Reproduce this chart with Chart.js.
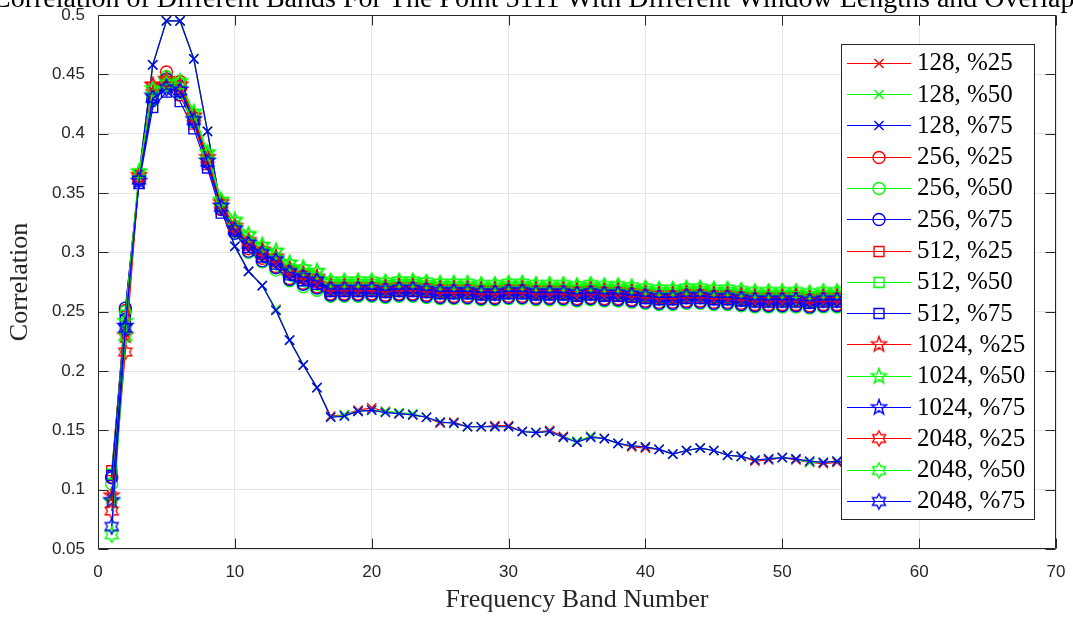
<!DOCTYPE html>
<html><head><meta charset="utf-8">
<script src="https://cdn.jsdelivr.net/npm/chart.js@4/dist/chart.umd.min.js"></script>
<style>html,body{margin:0;padding:0;background:#fff;overflow:hidden}#wrap{position:relative;width:1073px;height:617px}</style>
</head><body><div id="wrap"><canvas id="c" width="1073" height="617"></canvas></div>
<script>
const chartTitle = "Correlation of Different Bands For The Point 5111 With Different Window Lengths and Overlaps";
const xTitle = "Frequency Band Number";
const yTitle = "Correlation";
const xTicks = [0, 10, 20, 30, 40, 50, 60, 70];
const yTicks = [0.05, 0.1, 0.15, 0.2, 0.25, 0.3, 0.35, 0.4, 0.45, 0.5];
const bands = [1,2,3,4,5,6,7,8,9,10,11,12,13,14,15,16,17,18,19,20,21,22,23,24,25,26,27,28,29,30,31,32,33,34,35,36,37,38,39,40,41,42,43,44,45,46,47,48,49,50,51,52,53,54,55,56,57,58,59,60];
const seriesLabels = ["128, %25","128, %50","128, %75","256, %25","256, %50","256, %75","512, %25","512, %50","512, %75","1024, %25","1024, %50","1024, %75","2048, %25","2048, %50","2048, %75"];

const w128_25 = [.095,.232,.366,.458,.495,.495,.463,.402,.336,.305,.284,.272,.252,.226,.205,.186,.162,.163,.167,.169,.166,.164,.163,.161,.156,.157,.153,.153,.154,.154,.149,.148,.150,.145,.140,.145,.143,.139,.136,.135,.134,.130,.133,.135,.133,.129,.128,.124,.125,.127,.125,.123,.122,.123,.122,.121,.121,.120,.119,.119];
const w128_50 = [.092,.228,.366,.458,.495,.495,.463,.402,.337,.305,.284,.272,.252,.226,.205,.186,.161,.163,.166,.167,.166,.165,.164,.161,.157,.156,.153,.153,.153,.153,.149,.148,.149,.144,.141,.145,.143,.139,.137,.136,.134,.130,.133,.135,.133,.129,.128,.125,.126,.127,.126,.123,.123,.124,.122,.121,.121,.120,.120,.119];
const w128_75 = [.093,.228,.366,.458,.495,.495,.463,.402,.336,.305,.284,.272,.251,.226,.205,.186,.161,.162,.166,.167,.165,.164,.163,.161,.157,.156,.153,.153,.153,.153,.149,.148,.149,.144,.140,.144,.143,.139,.137,.136,.134,.130,.133,.135,.133,.129,.128,.125,.126,.127,.126,.124,.123,.124,.122,.121,.121,.120,.119,.119];
const w256_25 = [.111,.251,.364,.433,.452,.444,.413,.379,.338,.318,.303,.295,.288,.278,.274,.271,.265,.265,.265,.265,.264,.265,.265,.264,.263,.263,.263,.262,.262,.263,.263,.262,.262,.262,.261,.262,.261,.261,.260,.259,.258,.258,.259,.259,.258,.258,.257,.256,.256,.256,.256,.255,.256,.256,.256,.255,.255,.254,.254,.253];
const w256_50 = [.105,.250,.363,.430,.448,.442,.414,.380,.340,.317,.300,.292,.285,.276,.271,.268,.263,.263,.263,.263,.262,.263,.263,.262,.261,.261,.261,.260,.260,.261,.261,.260,.260,.260,.259,.260,.259,.259,.258,.257,.256,.256,.257,.257,.256,.256,.255,.254,.254,.254,.254,.253,.254,.254,.254,.253,.253,.252,.252,.251];
const w256_75 = [.110,.253,.362,.428,.446,.440,.410,.376,.336,.316,.301,.293,.287,.277,.273,.270,.264,.264,.264,.264,.263,.264,.264,.263,.262,.262,.262,.261,.261,.262,.262,.261,.261,.261,.260,.261,.260,.260,.259,.258,.257,.257,.258,.258,.257,.257,.256,.255,.255,.255,.255,.254,.255,.255,.255,.254,.254,.253,.253,.252];
const w512_25 = [.116,.246,.362,.430,.441,.432,.408,.374,.336,.320,.306,.298,.292,.283,.278,.275,.268,.268,.268,.268,.267,.268,.268,.267,.266,.266,.266,.265,.265,.266,.266,.265,.265,.265,.264,.265,.264,.264,.263,.262,.261,.261,.262,.262,.261,.261,.260,.259,.259,.259,.259,.258,.259,.259,.259,.258,.258,.257,.257,.256];
const w512_50 = [.113,.247,.363,.428,.440,.434,.410,.378,.338,.322,.308,.300,.294,.285,.280,.277,.269,.269,.269,.269,.268,.269,.269,.268,.267,.267,.267,.266,.266,.267,.267,.266,.266,.266,.265,.266,.265,.265,.264,.263,.262,.262,.263,.263,.262,.262,.261,.260,.260,.260,.260,.259,.260,.260,.260,.259,.259,.258,.258,.257];
const w512_75 = [.112,.243,.358,.422,.435,.427,.404,.371,.333,.318,.304,.296,.290,.281,.276,.273,.267,.267,.267,.267,.266,.267,.267,.266,.265,.265,.265,.264,.264,.265,.265,.264,.264,.264,.263,.264,.263,.263,.262,.261,.260,.260,.261,.261,.260,.260,.259,.258,.258,.258,.258,.257,.258,.258,.258,.257,.257,.256,.256,.255];
const w1024_25 = [.095,.230,.365,.441,.446,.441,.415,.380,.342,.322,.310,.302,.296,.286,.282,.279,.272,.272,.272,.272,.271,.272,.272,.271,.270,.270,.270,.269,.269,.270,.270,.269,.269,.269,.268,.269,.268,.268,.267,.266,.265,.265,.266,.266,.265,.265,.264,.263,.263,.263,.263,.262,.263,.263,.263,.262,.262,.261,.261,.260];
const w1024_50 = [.090,.242,.368,.438,.445,.444,.418,.384,.344,.327,.315,.306,.301,.291,.287,.284,.275,.275,.275,.275,.274,.275,.275,.274,.273,.273,.273,.272,.272,.273,.273,.272,.272,.272,.271,.272,.271,.271,.270,.269,.268,.268,.269,.269,.268,.268,.267,.266,.266,.266,.266,.265,.266,.266,.266,.265,.265,.264,.264,.263];
const w1024_75 = [.091,.238,.360,.432,.440,.437,.412,.377,.339,.320,.308,.300,.294,.284,.280,.277,.270,.270,.270,.270,.269,.270,.270,.269,.268,.268,.268,.267,.267,.268,.268,.267,.267,.267,.266,.267,.266,.266,.265,.264,.263,.263,.264,.264,.263,.263,.262,.261,.261,.261,.261,.260,.261,.261,.261,.260,.260,.259,.259,.258];
const w2048_25 = [.082,.216,.363,.440,.444,.440,.414,.379,.341,.321,.309,.301,.295,.285,.281,.278,.271,.271,.271,.271,.270,.271,.271,.270,.269,.269,.269,.268,.268,.269,.269,.268,.268,.268,.267,.268,.267,.267,.266,.265,.264,.264,.265,.265,.264,.264,.263,.262,.262,.262,.263,.261,.262,.262,.262,.261,.261,.260,.260,.259];
const w2048_50 = [.062,.229,.367,.437,.442,.443,.417,.383,.343,.326,.314,.305,.300,.290,.286,.283,.276,.276,.276,.276,.275,.276,.276,.275,.274,.274,.274,.273,.273,.274,.274,.273,.273,.273,.272,.273,.272,.272,.271,.270,.269,.269,.270,.270,.269,.269,.268,.267,.267,.267,.267,.266,.267,.267,.267,.266,.266,.265,.265,.264];
const w2048_75 = [.069,.236,.361,.430,.438,.436,.411,.376,.338,.319,.307,.299,.293,.283,.279,.276,.269,.269,.269,.269,.268,.269,.269,.268,.267,.267,.267,.266,.266,.267,.267,.266,.266,.266,.265,.266,.265,.265,.264,.263,.262,.262,.263,.263,.262,.262,.261,.260,.260,.260,.260,.259,.260,.260,.260,.259,.259,.258,.258,.257];

const seriesValues = [w128_25,w128_50,w128_75,w256_25,w256_50,w256_75,w512_25,w512_50,w512_75,w1024_25,w1024_50,w1024_75,w2048_25,w2048_50,w2048_75];
const colors = ['#ff0000','#00ff00','#0000ff'];

function starCanvas(color, n, R, rIn) {
  const s = 20, c = document.createElement('canvas');
  c.width = s; c.height = s;
  const g = c.getContext('2d');
  g.strokeStyle = color; g.lineWidth = 1.4;
  g.beginPath();
  for (let k = 0; k < 2 * n; k++) {
    const rr = k % 2 === 0 ? R : rIn;
    const a = -Math.PI / 2 + k * Math.PI / n;
    const px = s / 2 + rr * Math.cos(a), py = s / 2 + rr * Math.sin(a);
    if (k) g.lineTo(px, py); else g.moveTo(px, py);
  }
  g.closePath(); g.stroke();
  return c;
}
const pentas = colors.map(c => starCanvas(c, 5, 8, 3.2));
const hexas = colors.map(c => starCanvas(c, 6, 7.5, 4.3));

function markerFor(group, ci) {
  if (group === 0) return {style: 'crossRot', radius: 6.5};
  if (group === 1) return {style: 'circle', radius: 6};
  if (group === 2) return {style: 'rect', radius: 7};
  if (group === 3) return {style: pentas[ci], radius: 8};
  return {style: hexas[ci], radius: 8};
}

const datasets = seriesValues.map((vals, i) => {
  const group = Math.floor(i / 3), ci = i % 3;
  const m = markerFor(group, ci);
  return {
    label: seriesLabels[i],
    data: bands.map((b, k) => ({x: b, y: vals[k]})),
    borderColor: colors[ci],
    backgroundColor: 'rgba(0,0,0,0)',
    pointBackgroundColor: 'rgba(0,0,0,0)',
    pointBorderColor: colors[ci],
    borderWidth: 1.2,
    pointBorderWidth: 1.4,
    pointStyle: m.style,
    pointRadius: m.radius,
    pointHoverRadius: m.radius,
    tension: 0,
    fill: false,
    order: 14 - i
  };
});

const AX = '#262626';
const serif = "'Liberation Serif', 'DejaVu Serif', serif";
const sans = "'Liberation Sans', Arial, sans-serif";

const framePlugin = {
  id: 'frame',
  afterDatasetsDraw(chart) {
    const ctx = chart.ctx, a = chart.chartArea;
    const xs = chart.scales.x, ys = chart.scales.y;
    ctx.save();
    ctx.strokeStyle = AX; ctx.lineWidth = 1;
    ctx.beginPath();
    const L = Math.round(a.left) + 0.5, R = Math.round(a.right) - 0.5, T = Math.round(a.top) + 0.5, B = Math.round(a.bottom) - 0.5;
    ctx.rect(L, T, R - L, B - T);
    const tl = 10;
    xTicks.forEach(v => {
      const px = Math.round(xs.getPixelForValue(v)) + 0.5;
      ctx.moveTo(px, B); ctx.lineTo(px, B - tl);
      ctx.moveTo(px, T); ctx.lineTo(px, T + tl);
    });
    yTicks.forEach(v => {
      const py = Math.round(ys.getPixelForValue(v)) + 0.5;
      ctx.moveTo(L, py); ctx.lineTo(L + tl, py);
      ctx.moveTo(R, py); ctx.lineTo(R - tl, py);
    });
    ctx.stroke();
    ctx.restore();
  }
};

function drawMarker(ctx, ds, x, y) {
  const st = ds.pointStyle, r = ds.pointRadius;
  ctx.save();
  ctx.strokeStyle = ds.pointBorderColor; ctx.lineWidth = 1.4;
  ctx.beginPath();
  if (st === 'crossRot') {
    const o = r * Math.SQRT1_2;
    ctx.moveTo(x - o, y - o); ctx.lineTo(x + o, y + o);
    ctx.moveTo(x - o, y + o); ctx.lineTo(x + o, y - o);
    ctx.stroke();
  } else if (st === 'circle') {
    ctx.arc(x, y, r, 0, Math.PI * 2); ctx.stroke();
  } else if (st === 'rect') {
    const s = r * Math.SQRT1_2;
    ctx.rect(x - s, y - s, 2 * s, 2 * s); ctx.stroke();
  } else {
    ctx.drawImage(st, x - st.width / 2, y - st.height / 2);
  }
  ctx.restore();
}

const legendPlugin = {
  id: 'boxLegend',
  afterDraw(chart) {
    const ctx = chart.ctx;
    const bx = 841.5, by = 44.5, bw = 193, bh = 475;
    ctx.save();
    ctx.fillStyle = '#ffffff';
    ctx.fillRect(bx, by, bw, bh);
    ctx.strokeStyle = AX; ctx.lineWidth = 1;
    ctx.strokeRect(bx, by, bw, bh);
    ctx.font = "25px " + serif;
    ctx.textBaseline = 'middle';
    ctx.textAlign = 'left';
    chart.data.datasets.forEach((ds, i) => {
      const y = 62.7 + i * 31.3;
      ctx.strokeStyle = ds.borderColor; ctx.lineWidth = 1.2;
      ctx.beginPath(); ctx.moveTo(847, Math.round(y) + 0.5); ctx.lineTo(911, Math.round(y) + 0.5); ctx.stroke();
      drawMarker(ctx, ds, 879, Math.round(y) + 0.5);
      ctx.fillStyle = '#000';
      ctx.fillText(ds.label, 917, y + 1);
    });
    ctx.restore();
  }
};

const titlePlugin = {
  id: 'clipTitle',
  afterDraw(chart) {
    const ctx = chart.ctx;
    ctx.save();
    ctx.font = "28px " + serif;
    ctx.fillStyle = '#000';
    ctx.textAlign = 'left';
    ctx.textBaseline = 'alphabetic';
    ctx.fillText(chartTitle, -8, 7);
    ctx.restore();
  }
};

new Chart(document.getElementById('c'), {
  type: 'line',
  data: {datasets},
  options: {
    responsive: false,
    devicePixelRatio: 1,
    animation: false,
    events: [],
    layout: {padding: {top: 15, right: 17, bottom: 0, left: 0}},
    plugins: {legend: {display: false}, tooltip: {enabled: false}, title: {display: false}},
    scales: {
      x: {
        type: 'linear', min: 0, max: 70,
        afterFit: s => { s.height = 68; s.paddingLeft = 0; s.paddingRight = 0; },
        afterBuildTicks: s => { s.ticks = xTicks.map(v => ({value: v})); },
        ticks: {color: AX, font: {family: sans, size: 17}, padding: 13, maxRotation: 0, autoSkip: false, callback: v => String(v)},
        grid: {color: '#e5e5e5', lineWidth: 1, drawTicks: false},
        border: {display: false},
        title: {display: true, text: xTitle, color: AX, font: {family: serif, size: 26}, padding: {top: 0, bottom: 1}}
      },
      y: {
        type: 'linear', min: 0.05, max: 0.5,
        afterFit: s => { s.width = 98; s.paddingTop = 0; s.paddingBottom = 0; },
        afterBuildTicks: s => { s.ticks = yTicks.map(v => ({value: v})); },
        ticks: {color: AX, font: {family: sans, size: 17}, padding: 13, autoSkip: false, callback: v => String(+(+v).toFixed(2))},
        grid: {color: '#e5e5e5', lineWidth: 1, drawTicks: false},
        border: {display: false},
        title: {display: true, text: yTitle, color: AX, font: {family: serif, size: 26}, padding: {top: 5, bottom: 0}}
      }
    }
  },
  plugins: [framePlugin, legendPlugin, titlePlugin]
});
</script></body></html>
